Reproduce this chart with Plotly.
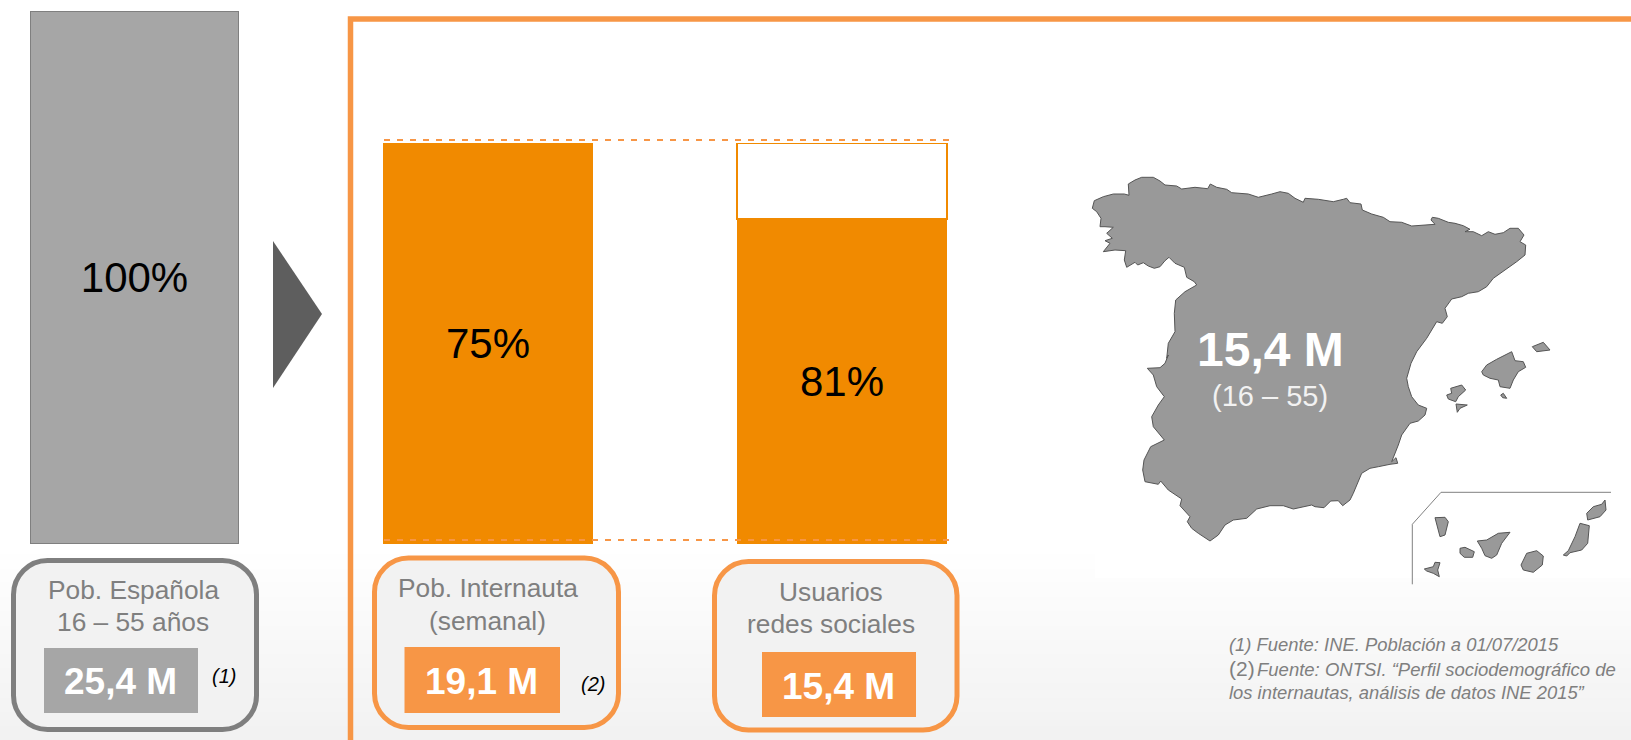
import plotly.graph_objects as go

# ---------- data ----------
pop_category = ["Pob. Española"]
pop_values = [100]
pop_labels = ["100%"]

share_categories = ["Pob. Internauta", "Usuarios redes sociales"]
share_filled = [100, 81]
share_rest = [None, 19]
share_labels = ["75%", "81%"]

box_titles = ["Pob. Española<br>16 – 55 años", "Pob. Internauta<br>(semanal)", "Usuarios<br>redes sociales"]
box_values = ["25,4 M", "19,1 M", "15,4 M"]

# Map outlines, in map units
mainland_x = [32.3,34.3,43.3,53.3,64.3,69,68.3,75,81.7,93.3,100,105,116.7,121.7,135,147.7,150.3,156.7,166.7,171.7,188.3,198.3,211.7,220,228.3,235,243.3,245,258.3,273.3,283.3,286.7,290,301,302.3,311.7,323.3,330,341.7,351.7,375,371,372.3,378.3,388.3,395,403.3,410,405,413.3,421.7,428.3,435,443.3,450,458.3,464,460,465.7,465,456.7,445,433.3,426.7,418.3,408.3,401.7,391.7,385,387.3,382.3,376.7,366.7,356.7,351,346.7,348.3,351.7,358.3,366.7,365,358.3,350,341.7,338.3,331.7,336,337.7,330,318.3,310,301.7,298.3,293.3,290,282.7,278.3,270.7,264,255,251.7,240,233.3,223.3,210,196.7,186.7,173.3,165,158.3,150,138.3,131.7,127.3,130,120,121.7,108.3,100.7,98.3,85,82.7,84,90.7,104.3,93.3,91.7,98.3,104.3,96.7,93.3,87.3,100,105,108.3,106.7,108.3,115,114.3,115.7,125,136.7,134.3,126.7,124.3,115,109,105,100,94.3,88.3,83.3,77.7,75,66.7,64.3,65.7,55,43.3,50,45,52.3,46.7,53.3,45,40,41,36.7]
mainland_y = [48.3,40.7,36.7,34,34,35.3,24,20,17.3,17.3,21,25,26,29,27.3,28.7,24,27.3,29.3,32.7,34,37.3,34,31.7,33.3,38.3,42.3,38.3,39.3,41.7,39.3,38.3,42.7,44,50,54,57.3,61.7,62.3,66,64.3,60,57.3,58.3,62.3,63.3,65.7,69.3,71.7,71.7,75.7,71.7,74.3,72.7,68.3,68.3,75,81.7,85,95,101.7,110,118.3,126.7,131.7,133.3,136.7,139,148.3,156.7,163.3,161.7,178.3,191.7,203.3,218.3,226.7,236.7,245,248.3,255,261,263.3,275,285,301.7,297.7,303.3,304.3,306.7,308.3,313.3,321.7,333.3,340,345.7,340.7,341,347.7,346.7,345,347.7,349,345.7,345.7,349,358.3,360,365,375,381,373.3,368.3,361.7,356.7,345.7,339,330,321,324.3,321.7,310,300,286.7,280,266.7,256.7,245,236.7,226.7,215,208.3,207.7,203.3,195,198.3,183.3,171.7,153.3,140,131.7,125,121.7,117.3,107.3,103.3,97.3,100.7,106.7,108.3,106,102.7,105,102.3,107.3,100,90.7,90,91.7,83.3,80.7,78.3,73.3,67.3,66.7,66.7,58.3,51.7]
mallorca_x = [421.7,426.7,436.7,451.7,455,463.3,465.7,458.3,453.3,450,440,438.3,430,423.3]
mallorca_y = [211.7,205,199.3,191.7,200.7,201.7,207.3,211.7,220,228.3,226.7,220,218.3,215]
menorca_x = [472.3,480,483.3,490,481.7,476.7]
menorca_y = [186.7,184,182.3,190,190.7,191.7]
ibiza_x = [386.7,391.7,390.7,401.7,405.7,398.3,395.7,388.3]
ibiza_y = [235,233.3,228.3,225,230,236.7,241.7,239]
formentera_x = [396,407.3,400,397.3]
formentera_y = [244,245,248.3,252.3]
cabrera_x = [440.7,443.3,446.7,442.7]
cabrera_y = [235,233.3,238.3,237.7]
la_palma_x = [375,385,388.3,385,380,377.3]
la_palma_y = [357.7,357.3,361.7,375,376.7,366.7]
la_gomera_x = [400,405,414.3,412.7,404.3,400]
la_gomera_y = [388.3,387.3,391.7,397.3,397.3,393.3]
tenerife_x = [417.3,426.7,438.3,450,441.7,436.7,431.7,425,421.7]
tenerife_y = [381,380,373.3,372.3,383.3,395,398.3,395.7,388.3]
gran_canaria_x = [461,466.7,476.7,483.3,482.3,473.3,463.3]
gran_canaria_y = [405,393.3,390.7,396,405,412.3,410]
el_hierro_x = [364.3,373.3,375,380,377.7,379.3,373.3,366.7]
el_hierro_y = [409,406.7,402.3,402.7,410,416.7,413.3,411]
fuerteventura_x = [503.3,508.3,515,520,529.3,527.7,521.7,510,506.7]
fuerteventura_y = [395,390.7,376.7,363.3,365.7,383.3,390,392.7,396]
lanzarote_x = [526.7,533.3,541.7,545,546,540,527.7]
lanzarote_y = [353.3,346.7,344.3,340,350,356.7,360]
inset_x = [352.3,352.3,381,551]
inset_y = [424.3,364.3,332.3,332.3]

# ---------- styles ----------
W, H = 1631, 740
FONT = "Liberation Sans"
ORANGE = "#f18a00"
SOFT = "#f79646"
GREY = "#a6a6a6"
DARK = "#7f7f7f"

def dx(a, b):
    return [a / W, b / W]

def dy(top, bottom):
    return [(H - bottom) / H, (H - top) / H]

def rounded(x0, y0, x1, y1, r):
    k = r * 0.45
    return (f"M{x0+r},{y0} L{x1-r},{y0} C{x1-k},{y0} {x1},{y0+k} {x1},{y0+r} "
            f"L{x1},{y1-r} C{x1},{y1-k} {x1-k},{y1} {x1-r},{y1} "
            f"L{x0+r},{y1} C{x0+k},{y1} {x0},{y1-k} {x0},{y1-r} "
            f"L{x0},{y0+r} C{x0},{y0+k} {x0+k},{y0} {x0+r},{y0} Z")

def closed(groups):
    xs, ys = [], []
    for gx, gy in groups:
        xs += gx + [gx[0], None]
        ys += gy + [gy[0], None]
    return xs, ys

fig = go.Figure()

# Canvas axes: xaxis/yaxis cover the page one unit per pixel
fig.add_trace(go.Scatter(x=[0, W], y=[0, H], mode="markers", marker=dict(opacity=0), hoverinfo="skip", showlegend=False))

# 100 % bar
fig.add_trace(go.Bar(x=pop_category, y=pop_values, text=pop_labels, textposition="inside", insidetextanchor="middle",
                     textangle=0, constraintext="none", textfont=dict(size=42, color="black", family=FONT),
                     marker=dict(color=GREY, line=dict(color=DARK, width=1.5)), width=1,
                     xaxis="x2", yaxis="y2", hoverinfo="skip", showlegend=False))

# Share bars
fig.add_trace(go.Bar(x=share_categories, y=share_filled, text=share_labels, textposition="inside", insidetextanchor="middle",
                     textangle=0, constraintext="none", textfont=dict(size=42, color="black", family=FONT),
                     marker=dict(color=ORANGE, line=dict(width=0)),
                     xaxis="x3", yaxis="y3", hoverinfo="skip", showlegend=False))
fig.add_trace(go.Bar(x=share_categories, y=share_rest, marker=dict(color="white", line=dict(color=ORANGE, width=2)),
                     xaxis="x3", yaxis="y3", hoverinfo="skip", showlegend=False))

# Map
map_x, map_y = closed([(mainland_x, mainland_y), (mallorca_x, mallorca_y), (menorca_x, menorca_y), (ibiza_x, ibiza_y),
                       (formentera_x, formentera_y), (cabrera_x, cabrera_y), (la_palma_x, la_palma_y),
                       (la_gomera_x, la_gomera_y), (tenerife_x, tenerife_y), (gran_canaria_x, gran_canaria_y),
                       (el_hierro_x, el_hierro_y), (fuerteventura_x, fuerteventura_y), (lanzarote_x, lanzarote_y)])
fig.add_trace(go.Scatter(x=map_x, y=map_y, mode="lines", fill="toself", fillcolor="#999999",
                         line=dict(color="#555555", width=1), xaxis="x4", yaxis="y4", hoverinfo="skip", showlegend=False))
fig.add_trace(go.Scatter(x=inset_x, y=inset_y, mode="lines", line=dict(color="#808080", width=1),
                         xaxis="x4", yaxis="y4", hoverinfo="skip", showlegend=False))

# ---------- shapes ----------
shapes = []
# Page background: fades from white to light grey at the foot of the page
levels = list(range(255, 241, -1))
grad_top, grad_bottom = 540, 740
step = (grad_bottom - grad_top) / len(levels)
for i, lv in enumerate(levels):
    shapes.append(dict(type="rect", xref="x", yref="y", x0=0, x1=W, y0=grad_top + i * step, y1=grad_top + (i + 1) * step + 1,
                       fillcolor=f"rgb({lv},{lv},{lv})", line=dict(width=0), layer="below"))
shapes.append(dict(type="rect", xref="x", yref="y", x0=1095, x1=W, y0=540, y1=578, fillcolor="white", line=dict(width=0), layer="below"))

# Orange frame
shapes.append(dict(type="path", xref="x", yref="y", path=f"M350.5,{H+5} L350.5,19 L{W+5},19", line=dict(color=SOFT, width=5.5), layer="below"))
# Arrow
shapes.append(dict(type="path", xref="x", yref="y", path="M273,241 L322,314 L273,388 Z", fillcolor="#5e5e5e", line=dict(width=0), layer="below"))

boxes = [
    dict(outer=(13.5, 560.5, 256.5, 729.5), stroke=DARK, inner=(44, 648, 198, 713), fill=GREY),
    dict(outer=(374.5, 558, 618.5, 727.5), stroke=SOFT, inner=(404.5, 647, 560, 713), fill=SOFT),
    dict(outer=(714.5, 561.5, 957, 730), stroke=SOFT, inner=(762, 652, 916, 717), fill=SOFT),
]
for b in boxes:
    x0, y0, x1, y1 = b["outer"]
    shapes.append(dict(type="path", xref="x", yref="y", path=rounded(x0, y0, x1, y1, 34), fillcolor="#f2f2f2",
                       line=dict(color=b["stroke"], width=5), layer="below"))
    x0, y0, x1, y1 = b["inner"]
    shapes.append(dict(type="rect", xref="x", yref="y", x0=x0, y0=y0, x1=x1, y1=y1, fillcolor=b["fill"], line=dict(width=0), layer="below"))

# Dashed guides
for y in (140, 540):
    shapes.append(dict(type="line", xref="x", yref="y", x0=384, x1=951, y0=y, y1=y, line=dict(color=SOFT, width=2, dash="6px,7px"), layer="above"))

# ---------- annotations ----------
def note(x, y, text, size, color, bold=False, anchor="center", italic=False):
    t = text
    if bold:
        t = f"<b>{t}</b>"
    if italic:
        t = f"<i>{t}</i>"
    return dict(xref="x", yref="y", x=x, y=y, text=t, showarrow=False, xanchor=anchor, yanchor="middle", align=anchor if anchor != "center" else "center",
                font=dict(family=FONT, size=size, color=color), borderpad=0, borderwidth=0)

title_lines = [t.split("<br>") for t in box_titles]
annotations = [
    note(133, 590, title_lines[0][0], 26.3, DARK), note(133, 622, title_lines[0][1], 26.3, DARK),
    note(487.5, 588, title_lines[1][0], 26.3, DARK), note(487.5, 620.5, title_lines[1][1], 26.3, DARK),
    note(830.5, 592, title_lines[2][0], 26.3, DARK), note(830.5, 624, title_lines[2][1], 26.3, DARK),
    note(120.5, 681, box_values[0], 37, "white", bold=True),
    note(481.5, 681.5, box_values[1], 37, "white", bold=True),
    note(838, 686.5, box_values[2], 37, "white", bold=True),
    note(224, 676, "(1)", 20, "black", italic=True),
    note(593, 684, "(2)", 20, "black", italic=True),
    note(1270.5, 349, box_values[2], 48, "white", bold=True),
    note(1269.5, 396, "(16 – 55)", 29, "#f2f2f2"),
    note(1228.5, 644, "(1) Fuente: INE. Población a 01/07/2015", 18.4, DARK, anchor="left", italic=True),
    note(1228.5, 668, "(2)", 21, DARK, anchor="left"),
    note(1257, 669, "Fuente: ONTSI. “Perfil sociodemográfico de", 18.5, DARK, anchor="left", italic=True),
    note(1228.5, 692, "los internautas, análisis de datos INE 2015”", 18.4, DARK, anchor="left", italic=True),
]

off = dict(visible=False, fixedrange=True)
fig.update_layout(
    width=W, height=H, margin=dict(l=0, r=0, t=0, b=0), autosize=False,
    paper_bgcolor="rgba(0,0,0,0)", plot_bgcolor="rgba(0,0,0,0)",
    barmode="stack", bargap=0.407, showlegend=False,
    font=dict(family=FONT),
    shapes=shapes, annotations=annotations,
    xaxis=dict(range=[0, W], domain=[0, 1], **off),
    yaxis=dict(range=[H, 0], domain=[0, 1], **off),
    xaxis2=dict(domain=dx(30, 239), range=[-0.5, 0.5], anchor="y2", **off),
    yaxis2=dict(domain=dy(11, 544), range=[0, 100], anchor="x2", **off),
    xaxis3=dict(domain=dx(311, 1019), range=[-0.5, 1.5], anchor="y3", **off),
    yaxis3=dict(domain=dy(143, 544), range=[0, 100], anchor="x3", **off),
    xaxis4=dict(domain=dx(1060, 1631), range=[0, 571], anchor="y4", **off),
    yaxis4=dict(domain=dy(160, 600), range=[440, 0], anchor="x4", **off),
)

fig.write_html("out.html", config=dict(displayModeBar=False, staticPlot=True),
               post_script="document.body.style.margin='0';document.body.style.overflow='hidden';")
